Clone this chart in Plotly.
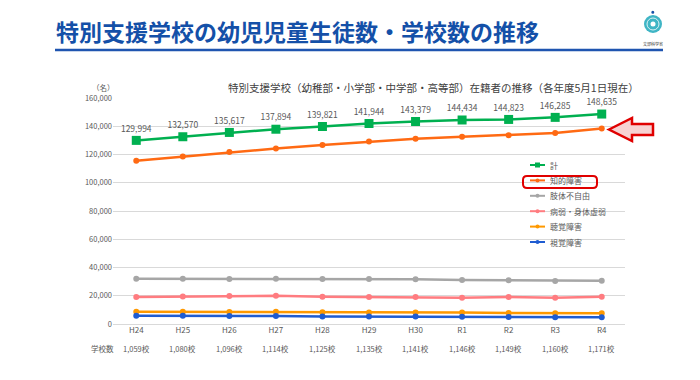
import plotly.graph_objects as go

years = ["H24", "H25", "H26", "H27", "H28", "H29", "H30", "R1", "R2", "R3", "R4"]
school_counts = ["1,059校", "1,080校", "1,096校", "1,114校", "1,125校", "1,135校",
                 "1,141校", "1,146校", "1,149校", "1,160校", "1,171校"]

total = [129994, 132570, 135617, 137894, 139821, 141944, 143379, 144434, 144823, 146285, 148635]
intellectual = [115500, 118600, 121700, 124300, 126800, 129200, 131100, 132500, 133700, 135300, 138400]
physical = [32100, 32000, 31900, 32100, 31800, 31800, 31600, 31100, 30900, 30500, 30600]
health = [19100, 19500, 19800, 20000, 19300, 19100, 19100, 18600, 19100, 18600, 19300]
hearing = [8600, 8600, 8500, 8600, 8300, 8200, 8200, 8100, 7700, 7600, 7600]
visual = [5900, 5900, 5700, 5600, 5300, 5300, 5300, 5100, 5000, 4800, 4800]

series_names = ["計", "知的障害", "肢体不自由", "病弱・身体虚弱", "聴覚障害", "視覚障害"]
series_values = [total, intellectual, physical, health, hearing, visual]
series_colors = ["#00B050", "#FF6A13", "#A6A6A6", "#FF7C80", "#FF9900", "#1F5CD1"]

FONT = "Noto Sans CJK JP"
GRAY = "#595959"

W, H = 700, 380
L, R, T, B = 113, 625, 98, 324


def px(x):
    return (x - L) / (R - L)


def py(y):
    return (B - y) / (B - T)


fig = go.Figure()
for name, vals, col in zip(series_names, series_values, series_colors):
    is_total = name == "計"
    fig.add_trace(go.Scatter(
        x=years, y=vals, name=name,
        mode="lines+markers+text" if is_total else "lines+markers",
        line=dict(color=col, width=2.5),
        marker=dict(symbol="square" if is_total else "circle",
                    size=9 if is_total else 6, color=col),
        text=[f"{v:,}" for v in vals] if is_total else None,
        textposition="top center",
        textfont=dict(family=FONT, size=8.5, color=GRAY),
        cliponaxis=False, showlegend=False,
        hoverinfo="x+y+name",
    ))


def ann(x, y, text, size, color=GRAY, xanchor="center", xref="paper", bold=False):
    return dict(x=x, xref=xref, y=y, yref="paper", text=f"<b>{text}</b>" if bold else text,
                xanchor=xanchor, yanchor="middle", showarrow=False,
                font=dict(family=FONT, size=size, color=color))


annotations = []
shapes = []

for yr, sc in zip(years, school_counts):
    annotations.append(ann(yr, py(348), sc, 7.5, xref="x"))
annotations.append(ann(px(102), py(348), "学校数", 7.5))
annotations.append(ann(px(103), py(87), "（名）", 7.5))
annotations.append(ann(px(226), py(87),
                       "特別支援学校（幼稚部・小学部・中学部・高等部）在籍者の推移（各年度5月1日現在）",
                       10.5, color="#404040", xanchor="left"))
annotations.append(ann(px(54), py(31), "特別支援学校の幼児児童生徒数・学校数の推移", 23,
                       color="#1450A8", xanchor="left", bold=True))
annotations.append(ann(px(653), py(43.5), "文部科学省", 4, color="#333333"))

# legend (drawn manually to match compact row spacing)
shapes.append(dict(type="rect", xref="paper", yref="paper", layer="between",
                   x0=px(517), x1=px(613), y0=py(156), y1=py(251),
                   fillcolor="white", line=dict(width=0)))
for i, (name, col) in enumerate(zip(series_names, series_colors)):
    yy = 165 + 15.4 * i
    shapes.append(dict(type="line", xref="paper", yref="paper", x0=px(530), x1=px(545),
                       y0=py(yy), y1=py(yy), line=dict(color=col, width=2)))
    if i == 0:
        shapes.append(dict(type="rect", xref="paper", yref="paper", x0=px(535), x1=px(540),
                           y0=py(yy + 2.5), y1=py(yy - 2.5), fillcolor=col, line=dict(width=0)))
    else:
        shapes.append(dict(type="circle", xref="paper", yref="paper", x0=px(535.5), x1=px(539.5),
                           y0=py(yy + 2), y1=py(yy - 2), fillcolor=col, line=dict(width=0)))
    annotations.append(ann(px(548), py(yy), name, 8, xanchor="left"))

# title underline
shapes.append(dict(type="line", xref="paper", yref="paper", x0=px(55), x1=px(663),
                   y0=py(50), y1=py(50), line=dict(color="#1F55B0", width=2.5)))
# logo
shapes.append(dict(type="circle", xref="paper", yref="paper", x0=px(644), x1=px(662),
                   y0=py(33), y1=py(15), fillcolor="#3FB5C5", line=dict(width=0)))
shapes.append(dict(type="circle", xref="paper", yref="paper", x0=px(647), x1=px(659),
                   y0=py(30), y1=py(18), fillcolor="rgba(0,0,0,0)", line=dict(color="white", width=0.8)))
shapes.append(dict(type="circle", xref="paper", yref="paper", x0=px(650.5), x1=px(655.5),
                   y0=py(26.5), y1=py(21.5), fillcolor="white", line=dict(width=0)))
shapes.append(dict(type="circle", xref="paper", yref="paper", x0=px(651.3), x1=px(654.3),
                   y0=py(13.8), y1=py(10.8), fillcolor="#1450A8", line=dict(width=0)))


def poly(points):
    return "M " + " L ".join(f"{px(x):.5f},{py(y):.5f}" for x, y in points) + " Z"


arrow = [(609, 129.5), (632, 118), (632, 124), (653, 124), (653, 135), (632, 135), (632, 141)]
shapes.append(dict(type="path", xref="paper", yref="paper", path=poly(arrow),
                   fillcolor="#F7D2D2", line=dict(color="#E00000", width=2.5)))

x0, x1, y0, y1, r = 523, 597, 176, 188, 4
rr = (f"M {px(x0 + r)},{py(y0)} L {px(x1 - r)},{py(y0)} Q {px(x1)},{py(y0)} {px(x1)},{py(y0 + r)} "
      f"L {px(x1)},{py(y1 - r)} Q {px(x1)},{py(y1)} {px(x1 - r)},{py(y1)} "
      f"L {px(x0 + r)},{py(y1)} Q {px(x0)},{py(y1)} {px(x0)},{py(y1 - r)} "
      f"L {px(x0)},{py(y0 + r)} Q {px(x0)},{py(y0)} {px(x0 + r)},{py(y0)} Z")
shapes.append(dict(type="path", xref="paper", yref="paper", path=rr,
                   fillcolor="rgba(0,0,0,0)", line=dict(color="#E00000", width=2)))

fig.update_layout(
    width=W, height=H, autosize=False,
    margin=dict(l=L, r=W - R, t=T, b=H - B, pad=0),
    paper_bgcolor="white", plot_bgcolor="white",
    font=dict(family=FONT, color=GRAY),
    showlegend=False,
    xaxis=dict(type="category", range=[-0.5, 10.5], showgrid=False, showline=False,
               zeroline=False, ticks="", tickfont=dict(family=FONT, size=8, color=GRAY)),
    yaxis=dict(range=[0, 160000], dtick=20000, tickformat=",", showgrid=True,
               gridcolor="#D9D9D9", gridwidth=1, zeroline=True, zerolinecolor="#D9D9D9",
               zerolinewidth=1, showline=False, ticks="",
               tickfont=dict(family=FONT, size=7.5, color=GRAY)),
    annotations=annotations,
    shapes=shapes,
)

fig.write_html("out.html", config={"displayModeBar": False},
               post_script="document.body.style.margin='0';")
